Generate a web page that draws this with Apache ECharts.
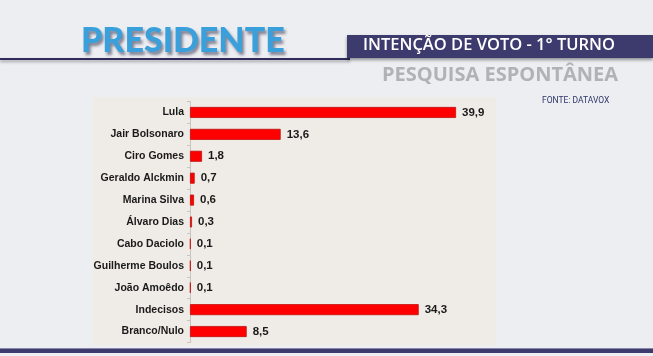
<!DOCTYPE html>
<html>
<head>
<meta charset="utf-8">
<script src="https://cdn.jsdelivr.net/npm/echarts@6/dist/echarts.min.js"></script>
<style>
html,body{margin:0;padding:0;background:#eceef2;}
#c{width:653px;height:356px;}
</style>
</head>
<body>
<div id="c"></div>
<script>
var categories = ['Lula','Jair Bolsonaro','Ciro Gomes','Geraldo Alckmin','Marina Silva','Álvaro Dias','Cabo Daciolo','Guilherme Boulos','João Amoêdo','Indecisos','Branco/Nulo'];
var values = [39.9, 13.6, 1.8, 0.7, 0.6, 0.3, 0.1, 0.1, 0.1, 34.3, 8.5];

var chart = echarts.init(document.getElementById('c'), null, {renderer:'canvas'});
chart.setOption({
  backgroundColor: '#eceef2',
  animation: false,
  graphic: [
    {type:'rect', shape:{x:93,y:97,width:403,height:248}, style:{fill:'#efebe6'}, z:-10},
    {type:'rect', shape:{x:0,y:58,width:350,height:2}, style:{fill:'#2e2c5c', shadowColor:'rgba(0,0,0,0.35)', shadowBlur:3, shadowOffsetY:2}},
    {type:'rect', shape:{x:347,y:35,width:306,height:23}, style:{fill:'#3d3a6e', shadowColor:'rgba(0,0,0,0.4)', shadowBlur:3, shadowOffsetY:2}},
    {type:'text', left:363, top:37, style:{text:'INTENÇÃO DE VOTO - 1° TURNO', fill:'#ffffff', font:'600 16.5px "Open Sans"'}},
    {type:'text', left:81, top:24, style:{text:'PRESIDENTE', fill:'#3aa0dc', font:'900 34px Lato', textShadowColor:'rgba(40,40,70,0.55)', textShadowBlur:3, textShadowOffsetX:2, textShadowOffsetY:3}},
    {type:'text', left:382, top:65, style:{text:'PESQUISA ESPONTÂNEA', fill:'#b2b2b6', font:'bold 20px "Open Sans"'}},
    {type:'text', left:542, top:96, style:{text:'FONTE: DATAVOX', fill:'#2f3566', font:'8.5px "Liberation Sans Narrow", Roboto'}},
    {type:'rect', shape:{x:0,y:349,width:653,height:4}, style:{fill:'#3d3a6e'}},
    {type:'rect', shape:{x:0,y:348,width:653,height:1}, style:{fill:'#8a88aa'}}
  ],
  grid: {left:190, top:101.5, width:306.7, height:241, containLabel:false},
  xAxis: {type:'value', min:0, max:46, show:false},
  yAxis: {
    type:'category', data:categories, inverse:true,
    axisLine:{show:true, lineStyle:{color:'#c8c4c0', width:1}},
    axisTick:{show:true, length:3, lineStyle:{color:'#c8c4c0'}},
    axisLabel:{color:'#1a1a1a', fontFamily:'Liberation Sans, Arial', fontWeight:'bold', fontSize:10.5, margin:6, padding:[5,0,0,0]}
  },
  series: [{
    type:'bar', data:values, barWidth:11,
    itemStyle:{color:'#ff0000', borderColor:'#c01010', borderWidth:0.8},
    label:{show:true, position:'right', distance:6, formatter:function(p){return String(p.value).replace('.',',');},
      color:'#1a1a1a', fontFamily:'Liberation Sans, Arial', fontWeight:'bold', fontSize:11.5, padding:[3,0,0,0]}
  }]
});
</script>
</body>
</html>
